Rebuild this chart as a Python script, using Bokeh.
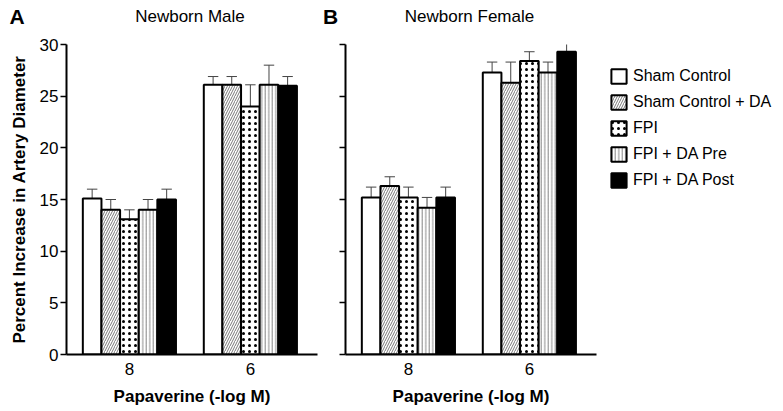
from bokeh.plotting import figure
from bokeh.layouts import row, column
from bokeh.models import (FixedTicker, Legend, LegendItem, ColumnDataSource, Range1d)
from bokeh.core.properties import value
from bokeh.embed import file_html
from bokeh.resources import INLINE

# ---------------- data ----------------
groups = ["Sham Control", "Sham Control + DA", "FPI", "FPI + DA Pre", "FPI + DA Post"]
doses = ["8", "6"]

male_8_mean = [15.1, 14.0, 13.1, 14.0, 15.0]
male_8_sem = [0.9, 1.0, 0.9, 1.0, 1.0]
male_6_mean = [26.1, 26.1, 24.0, 26.1, 26.0]
male_6_sem = [0.8, 0.8, 2.1, 1.9, 0.9]

female_8_mean = [15.2, 16.3, 15.2, 14.2, 15.2]
female_8_sem = [1.0, 0.9, 1.0, 1.0, 1.0]
female_6_mean = [27.3, 26.3, 28.4, 27.3, 29.3]
female_6_sem = [1.0, 2.0, 0.9, 1.0, 1.0]

panel_letters = ["A", "B"]
panel_titles = ["Newborn Male", "Newborn Female"]
y_label = "Percent Increase in Artery Diameter"
x_label = "Papaverine (-log M)"
y_ticks = [0, 5, 10, 15, 20, 25, 30]

# ---------------- styles ----------------
FONT = "Liberation Sans"
BAR_W = 0.154
styles = [
    dict(fill_color="white"),
    dict(fill_color="white", hatch_pattern="right_diagonal_line", hatch_color="#555555", hatch_scale=5, hatch_weight=0.8),
    dict(fill_color="white", hatch_pattern="dot", hatch_color="black", hatch_scale=6, hatch_weight=2.0),
    dict(fill_color="white", hatch_pattern="vertical_line", hatch_color="#666666", hatch_scale=3.5, hatch_weight=0.8),
    dict(fill_color="black"),
]
TOTAL_W = 774
HEADER_H = 36

# ---------------- header with panel letters and titles ----------------
head = figure(width=TOTAL_W, height=HEADER_H, x_range=Range1d(0, TOTAL_W), y_range=Range1d(0, HEADER_H),
              output_backend="svg", toolbar_location=None,
              min_border=0, min_border_left=0, min_border_right=0, min_border_top=0, min_border_bottom=0)
head.axis.visible = False
head.grid.visible = False
head.outline_line_color = None
head.title.visible = False
letter_src = ColumnDataSource(dict(x=[16.5, 330], y=[20, 20], t=panel_letters))
title_src = ColumnDataSource(dict(x=[189.5, 469], y=[20, 20], t=panel_titles))
head.text(x="x", y="y", text="t", source=letter_src, text_font=value(FONT), text_font_size="21px",
          text_font_style="bold", text_align="center", text_baseline="middle", text_color="black")
head.text(x="x", y="y", text="t", source=title_src, text_font=value(FONT), text_font_size="17px",
          text_align="center", text_baseline="middle", text_color="black")


def make_panel(means, sems, show_ylabels, with_legend):
    p = figure(frame_width=251, frame_height=310,
               x_range=Range1d(-0.52, 1.555), y_range=Range1d(0, 30),
               output_backend="svg", toolbar_location=None,
               min_border_left=66 if show_ylabels else 20,
               min_border_right=8 if not with_legend else 178,
               min_border_top=8, min_border_bottom=10)
    p.outline_line_color = None
    p.grid.visible = False
    p.title.visible = False

    renderers = []
    for k, g in enumerate(groups):
        xs = [gi + (k - 2) * BAR_W for gi in range(len(doses))]
        tops = [means[gi][k] for gi in range(len(doses))]
        ups = [means[gi][k] + sems[gi][k] for gi in range(len(doses))]
        src = ColumnDataSource(dict(x=xs, top=tops, up=ups,
                                    cl=[x - BAR_W * 0.28 for x in xs],
                                    cr=[x + BAR_W * 0.28 for x in xs]))
        p.segment(x0="x", y0="top", x1="x", y1="up", source=src, line_color="#444444", line_width=1)
        p.segment(x0="cl", y0="up", x1="cr", y1="up", source=src, line_color="#444444", line_width=1)
        r = p.vbar(x="x", top="top", bottom=0, width=BAR_W, source=src,
                   line_color="black", line_width=2, **styles[k])
        renderers.append(r)

    yax = p.yaxis[0]
    yax.ticker = FixedTicker(ticks=y_ticks)
    yax.axis_line_width = 2
    yax.axis_line_color = "black"
    yax.major_tick_line_width = 1.5
    yax.major_tick_line_color = "black"
    yax.major_tick_out = 6
    yax.major_tick_in = 0
    yax.minor_tick_line_color = None
    yax.major_label_text_font = FONT
    yax.major_label_text_font_size = "17px"
    yax.major_label_text_color = "black"
    yax.major_label_standoff = 2
    if show_ylabels:
        yax.axis_label = y_label
        yax.axis_label_text_font = FONT
        yax.axis_label_text_font_size = "17px"
        yax.axis_label_text_font_style = "bold"
        yax.axis_label_text_color = "black"
        yax.axis_label_standoff = 8
    else:
        yax.major_label_overrides = {t: "" for t in y_ticks}
        yax.major_label_standoff = 0

    xax = p.xaxis[0]
    xax.ticker = FixedTicker(ticks=list(range(len(doses))))
    xax.major_label_overrides = {i: d for i, d in enumerate(doses)}
    xax.axis_line_width = 2
    xax.axis_line_color = "black"
    xax.major_tick_out = 0
    xax.major_tick_in = 0
    xax.minor_tick_line_color = None
    xax.major_label_text_font = FONT
    xax.major_label_text_font_size = "17px"
    xax.major_label_text_color = "black"
    xax.major_label_standoff = 8
    xax.axis_label = x_label
    xax.axis_label_text_font = FONT
    xax.axis_label_text_font_size = "17px"
    xax.axis_label_text_font_style = "bold"
    xax.axis_label_text_color = "black"
    xax.axis_label_standoff = 9

    if with_legend:
        items = [LegendItem(label=g, renderers=[renderers[k]]) for k, g in enumerate(groups)]
        lg = Legend(items=items, location=(13, 165), orientation="vertical",
                    glyph_width=19, glyph_height=18, label_height=18, spacing=8,
                    padding=0, margin=0, label_standoff=5,
                    label_text_font=FONT, label_text_font_size="16px", label_text_color="black",
                    border_line_color=None, background_fill_color=None)
        p.add_layout(lg, "right")
    return p


pA = make_panel([male_8_mean, male_6_mean], [male_8_sem, male_6_sem], True, False)
pB = make_panel([female_8_mean, female_6_mean], [female_8_sem, female_6_sem], False, True)

layout = column(head, row(pA, pB))
open("out.html", "w").write(file_html(layout, INLINE))
